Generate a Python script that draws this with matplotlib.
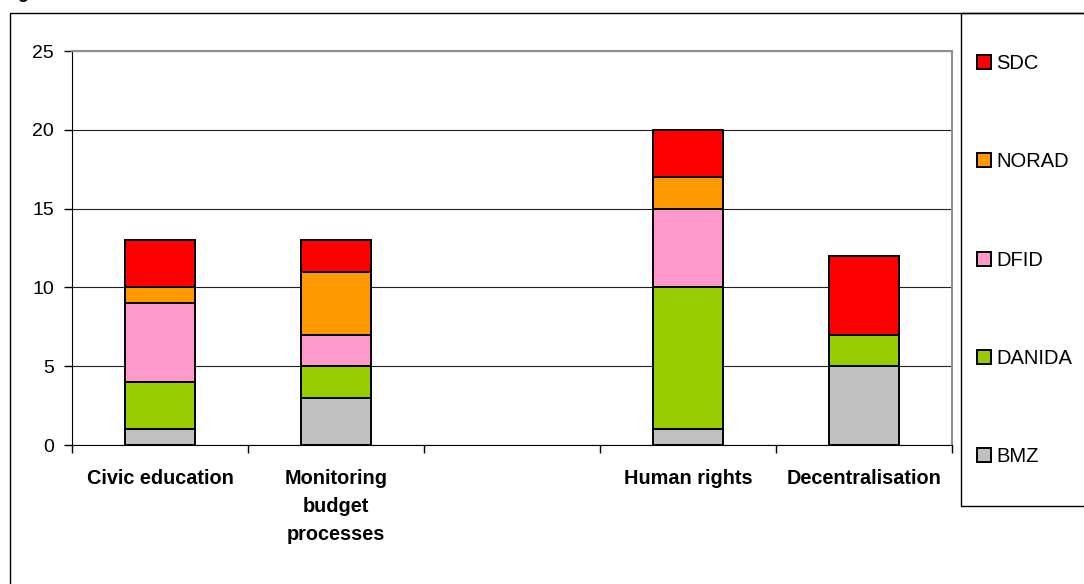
import numpy as np
import matplotlib.pyplot as plt
from matplotlib.patches import Rectangle, Patch

plt.rcParams['font.family'] = ['Liberation Sans', 'DejaVu Sans']

# ---------------------- DATA ----------------------
categories = ['Civic education', 'Monitoring\nbudget\nprocesses', '',
              'Human rights', 'Decentralisation']
donors = ['BMZ', 'DANIDA', 'DFID', 'NORAD', 'SDC']
bmz = [1, 3, 0, 1, 5]
danida = [3, 2, 0, 9, 2]
dfid = [5, 2, 0, 5, 0]
norad = [1, 4, 0, 2, 0]
sdc = [3, 2, 0, 3, 5]
colors = ['#C0C0C0', '#99CC00', '#FF99CC', '#FF9900', '#FF0000']
y_ticks = [0, 5, 10, 15, 20, 25]

# ---------------------- FIGURE ----------------------
W, H = 1084, 584
fig = plt.figure(figsize=(W / 100, H / 100), dpi=100)
ax = fig.add_axes([72 / W, 1 - 445 / H, 880 / W, 394 / H])

x = np.arange(len(categories))
bottom = np.zeros(len(categories))
for name, vals, col in zip(donors, [bmz, danida, dfid, norad, sdc], colors):
    vals = np.array(vals, dtype=float)
    keep = vals > 0  # empty segments get no outline
    ax.bar(x[keep], vals[keep], width=0.4, bottom=bottom[keep], color=col,
           edgecolor='black', linewidth=1.4, zorder=3)
    bottom += vals

ax.set_xlim(-0.5, len(categories) - 0.5)
ax.set_ylim(0, 25)
ax.set_yticks(y_ticks)
ax.yaxis.grid(True, color='#202020', linewidth=0.8, zorder=0)
ax.tick_params(axis='y', direction='out', length=6, width=1,
               labelsize=14, pad=7)

# category boundaries carry the tick marks, labels sit under the centres
ax.set_xticks(np.arange(len(categories) + 1) - 0.5)
ax.set_xticklabels([])
ax.tick_params(axis='x', which='major', direction='out', length=6, width=1)
ax.set_xticks(x, minor=True)
ax.set_xticklabels(categories, minor=True, fontweight='bold',
                   fontsize=14.3, linespacing=1.62)
ax.tick_params(axis='x', which='minor', length=0, pad=17)

for side in ['top', 'right']:
    ax.spines[side].set_color('#909090')
    ax.spines[side].set_linewidth(1.5)
for side in ['left', 'bottom']:
    ax.spines[side].set_color('black')

# outer chart frame and legend frame (run past the image edge)
fig.patches.append(Rectangle((10 / W, -0.2), 2, 1 - 13 / H + 0.2,
                             transform=fig.transFigure, fill=False,
                             edgecolor='black', linewidth=1))
fig.patches.append(Rectangle((961 / W, 1 - 506 / H), 1, (506 - 13) / H,
                             transform=fig.transFigure, fill=False,
                             edgecolor='black', linewidth=1))

handles = [Patch(facecolor=c, edgecolor='black', linewidth=1.4)
           for c in colors[::-1]]
fig.legend(handles, donors[::-1], loc='upper left',
           bbox_to_anchor=(969 / W, 1 - 46 / H), frameon=False,
           fontsize=14.5, handlelength=0.7, handleheight=0.7,
           handletextpad=0.25, labelspacing=3.94, borderaxespad=0)

fig.text(17 / W, 1 + 1.5 / H, 'g', fontsize=13, fontweight='bold',
         va='baseline', ha='left')

fig.savefig('out.png', dpi=100)
